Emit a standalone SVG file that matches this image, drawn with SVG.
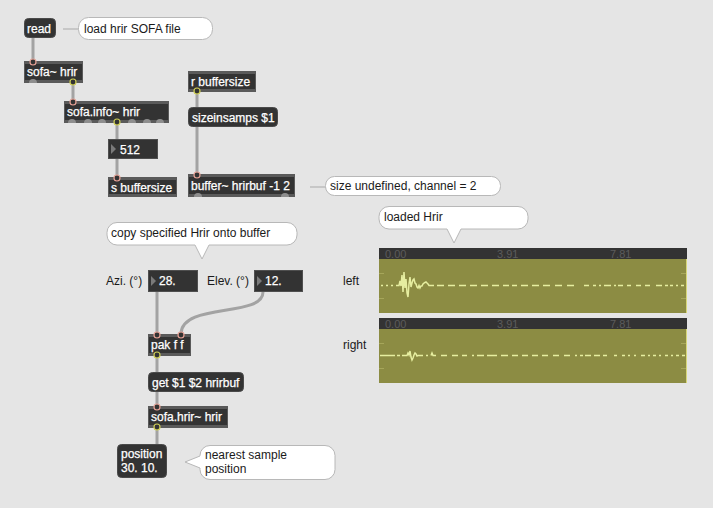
<svg xmlns="http://www.w3.org/2000/svg" width="713" height="508" viewBox="0 0 713 508">
<style>
.obj-o{fill:#5a5a5a}
.obj-i{fill:#333333}
.msg{fill:#333333;stroke:#4a4a4a;stroke-width:1}
.num{fill:#333333;stroke:#4f4f4f;stroke-width:1}
.tri{fill:#7a7a7a}
.t{font-family:"Liberation Sans",Arial,sans-serif;font-size:12px;fill:#ffffff;stroke:#ffffff;stroke-width:0.25}
.c{font-family:"Liberation Sans",Arial,sans-serif;font-size:12px;fill:#1a1a1a}
.bub{fill:#ffffff;stroke:#b8b8b8;stroke-width:1}
.cable{fill:none;stroke:#a3a3a3;stroke-width:3}
.pin{fill:#333333;stroke:#e6a195;stroke-width:1.2}
.pout{fill:#333333;stroke:#cfcf55;stroke-width:1.2}
.pfree{fill:#8e8e8e}
.hdr{fill:#333333}
.body{fill:#8c8c43}
.tick{stroke:#a6a65a;stroke-width:1}
.lab{font-family:"Liberation Sans",Arial,sans-serif;font-size:11px;fill:#5c5c5c}
.wave{fill:none;stroke:#e6eea0;stroke-width:1.5}
</style>
<rect x="0" y="0" width="713" height="508" fill="#e5e5e5"/>

<g id="connectors">
<line class="cable" x1="33" y1="38" x2="33" y2="61"/>
<line class="cable" x1="73" y1="83" x2="73" y2="101"/>
<line class="cable" x1="117" y1="123" x2="117" y2="139"/>
<line class="cable" x1="117" y1="159" x2="117" y2="177"/>
<line class="cable" x1="197" y1="92" x2="197" y2="107"/>
<line class="cable" x1="197" y1="127" x2="197" y2="174"/>
<line class="cable" x1="157" y1="292" x2="157" y2="334"/>
<path class="cable" d="M263,292 C263,318 181,302 181,334"/>
<line class="cable" x1="157" y1="356" x2="157" y2="372"/>
<line class="cable" x1="157" y1="392" x2="157" y2="406"/>
<line class="cable" x1="157" y1="428" x2="157" y2="444"/>
</g>

<g id="read">
<rect class="msg" x="24.5" y="18.5" width="31" height="19" rx="4"/>
<text class="t" x="27" y="32.5">read</text>
</g>

<g id="comment-load">
<line x1="63" y1="29" x2="79" y2="29" stroke="#bdbdbd" stroke-width="1.5"/>
<rect class="bub" x="78.5" y="17.5" width="134" height="22" rx="10"/>
<text class="c" x="84" y="32.5">load hrir SOFA file</text>
</g>

<g id="sofa-hrir">
<rect class="obj-o" x="24" y="61" width="59" height="22"/>
<rect class="obj-i" x="25" y="64" width="57" height="16"/>
<text class="t" x="27" y="76">sofa~ hrir</text>
<circle class="pin" cx="33" cy="62" r="3"/>
<path class="pfree" d="M29,83 A4,4 0 0 1 37,83 Z"/>
<circle class="pout" cx="73" cy="82" r="3"/>
</g>

<g id="sofa-info">
<rect class="obj-o" x="64" y="101" width="105" height="22"/>
<rect class="obj-i" x="65" y="104" width="103" height="16"/>
<text class="t" x="67" y="116">sofa.info~ hrir</text>
<circle class="pin" cx="73" cy="102" r="3"/>
<path class="pfree" d="M68,123 A4,4 0 0 1 76,123 Z"/>
<path class="pfree" d="M84,123 A4,4 0 0 1 92,123 Z"/>
<path class="pfree" d="M98,123 A4,4 0 0 1 106,123 Z"/>
<path class="pfree" d="M128,123 A4,4 0 0 1 136,123 Z"/>
<path class="pfree" d="M143,123 A4,4 0 0 1 151,123 Z"/>
<path class="pfree" d="M156,123 A4,4 0 0 1 164,123 Z"/>
<circle class="pout" cx="117" cy="122" r="3"/>
</g>

<g id="num-512">
<rect class="num" x="108.5" y="139.5" width="49" height="19"/>
<path class="tri" d="M111,144 L116,149 L111,154 Z"/>
<text class="t" x="120" y="154">512</text>
</g>

<g id="s-buffersize">
<rect class="obj-o" x="108" y="177" width="69" height="20"/>
<rect class="obj-i" x="109" y="180" width="67" height="14"/>
<text class="t" x="111" y="192">s buffersize</text>
<circle class="pin" cx="117" cy="178" r="3"/>
</g>

<g id="r-buffersize">
<rect class="obj-o" x="188" y="71" width="68" height="21"/>
<rect class="obj-i" x="189" y="74" width="66" height="15"/>
<text class="t" x="191" y="86">r buffersize</text>
<circle class="pout" cx="197" cy="91" r="3"/>
</g>

<g id="sizeinsamps">
<rect class="msg" x="188.5" y="107.5" width="89" height="19" rx="4"/>
<text class="t" x="192" y="122">sizeinsamps $1</text>
</g>

<g id="buffer">
<rect class="obj-o" x="188" y="174" width="107" height="23"/>
<rect class="obj-i" x="189" y="177" width="105" height="17"/>
<text class="t" x="191" y="190">buffer~ hrirbuf -1 2</text>
<circle class="pin" cx="197" cy="175" r="3"/>
<path class="pfree" d="M194,197 A4,4 0 0 1 202,197 Z"/>
<path class="pfree" d="M281,197 A4,4 0 0 1 289,197 Z"/>
</g>

<g id="comment-size">
<line x1="310" y1="187" x2="326" y2="187" stroke="#bdbdbd" stroke-width="1.5"/>
<rect class="bub" x="325.5" y="176.5" width="175" height="19" rx="9"/>
<text class="c" x="330" y="190">size undefined, channel = 2</text>
</g>

<g id="comment-copy">
<path class="bub" d="M117,222.5 H287 A10,10 0 0 1 297,232.5 V235 A10,10 0 0 1 287,245 H209 L202,259 L195,245 H117 A10,10 0 0 1 107,235 V232.5 A10,10 0 0 1 117,222.5 Z"/>
<text class="c" x="111" y="237">copy specified Hrir onto buffer</text>
</g>

<g id="label-azi"><text class="c" x="106" y="285">Azi. (°)</text></g>
<g id="label-elev"><text class="c" x="207" y="285">Elev. (°)</text></g>

<g id="num-azi">
<rect class="num" x="148.5" y="270.5" width="49" height="21"/>
<path class="tri" d="M151,276 L156,281 L151,286 Z"/>
<text class="t" x="159" y="285">28.</text>
</g>

<g id="num-elev">
<rect class="num" x="254.5" y="270.5" width="48" height="21"/>
<path class="tri" d="M257,276 L262,281 L257,286 Z"/>
<text class="t" x="265" y="285">12.</text>
</g>

<g id="pak">
<rect class="obj-o" x="148" y="334" width="43" height="22"/>
<rect class="obj-i" x="149" y="337" width="41" height="16"/>
<text class="t" x="151" y="349">pak f f</text>
<circle class="pin" cx="157" cy="335" r="3"/>
<circle class="pin" cx="181" cy="335" r="3"/>
<circle class="pout" cx="157" cy="355" r="3"/>
</g>

<g id="get-msg">
<rect class="msg" x="148.5" y="372.5" width="95" height="19" rx="4"/>
<text class="t" x="152" y="387">get $1 $2 hrirbuf</text>
</g>

<g id="sofa-hrir-obj">
<rect class="obj-o" x="148" y="406" width="80" height="22"/>
<rect class="obj-i" x="149" y="409" width="78" height="16"/>
<text class="t" x="151" y="421">sofa.hrir~ hrir</text>
<circle class="pin" cx="157" cy="407" r="3"/>
<circle class="pout" cx="157" cy="427" r="3"/>
</g>

<g id="position-msg">
<rect class="msg" x="117.5" y="444.5" width="49" height="33" rx="4"/>
<text class="t" x="121" y="458">position</text>
<text class="t" x="121" y="472">30. 10.</text>
</g>

<g id="comment-nearest">
<path class="bub" d="M210,445.5 H325 A10,10 0 0 1 335,455.5 V469.5 A10,10 0 0 1 325,479.5 H210 A10,10 0 0 1 200,469.5 V468 L185,462 L200,456 V455.5 A10,10 0 0 1 210,445.5 Z"/>
<text class="c" x="205" y="459">nearest sample</text>
<text class="c" x="205" y="473">position</text>
</g>

<g id="comment-loaded">
<path class="bub" d="M389,206.5 H518 A10,10 0 0 1 528,216.5 V219 A10,10 0 0 1 518,229 H461 L454,243 L447,229 H389 A10,10 0 0 1 379,219 V216.5 A10,10 0 0 1 389,206.5 Z"/>
<text class="c" x="384" y="221">loaded Hrir</text>
</g>

<g id="label-left"><text class="c" x="343" y="285">left</text></g>
<g id="label-right"><text class="c" x="343" y="349">right</text></g>

<g id="wave-left">
<rect class="hdr" x="379" y="248" width="308" height="11"/>
<rect class="body" x="379" y="259" width="308" height="54"/>
<line x1="686.5" y1="259" x2="686.5" y2="313" stroke="#d6d67a" stroke-width="1"/>
<line class="tick" x1="379" y1="273.5" x2="384" y2="273.5"/>
<line class="tick" x1="379" y1="298.5" x2="384" y2="298.5"/>
<line class="tick" x1="681" y1="273.5" x2="686" y2="273.5"/>
<line class="tick" x1="681" y1="298.5" x2="686" y2="298.5"/>
<text class="lab" x="385" y="258">0.00</text>
<text class="lab" x="497" y="258">3.91</text>
<text class="lab" x="610" y="258">7.81</text>
<path class="wave" d="M381,285.5 H383 M386,285.5 H388 M391,285.5 H393 M396,285.5 H399 L400,281 L401,286 L402,275 L403,292 L404,272 L405,288 L406,279 L407,293 L408,297 L409,284 L410,277 L411,287 L412,283 L413,280 L414,279 L415,283 L416,284 L417,287 L418,288 L419,285.5 L420,288 L421,286 L422,286 L423,284 L424,283 L425,282.5 L426,282 L427,283 L428,284 L429,285.5 H434 M437,285.5 H444 M448,285.5 H455 M459,285.5 H466 M470,285.5 H477 M481,285.5 H488 M492,285.5 H499 M503,285.5 H509 M512,285.5 H517 M521,285.5 H528 M532,285.5 H539 M543,285.5 H550 M555,285.5 H562 M567,285.5 H574 M584,285.5 H589 M593,285.5 H596 M599,285.5 H601 M604,285.5 H611 M614,285.5 H616 M618,285.5 H623 M627,285.5 H631 M636,285.5 H641 M645,285.5 H650 M656,285.5 H662 M665,285.5 H668 M670,285.5 H673 M676,285.5 H678 M681,285.5 H684"/>
</g>

<g id="wave-right">
<rect class="hdr" x="379" y="318" width="308" height="11"/>
<rect class="body" x="379" y="329" width="308" height="54"/>
<line x1="686.5" y1="329" x2="686.5" y2="383" stroke="#d6d67a" stroke-width="1"/>
<line class="tick" x1="379" y1="343.5" x2="384" y2="343.5"/>
<line class="tick" x1="379" y1="368.5" x2="384" y2="368.5"/>
<line class="tick" x1="681" y1="343.5" x2="686" y2="343.5"/>
<line class="tick" x1="681" y1="368.5" x2="686" y2="368.5"/>
<text class="lab" x="385" y="328">0.00</text>
<text class="lab" x="497" y="328">3.91</text>
<text class="lab" x="610" y="328">7.81</text>
<path class="wave" d="M380,355.5 H395 M397,355.5 H400 M402,355.5 H407 L408,353 L409,355 L410,351 L411,357 L412,360 L413,358 L414,355 L415,353 L416,354 L417,356 L418,355.5 H423 M426,355.5 H428 M431,355.5 L432,353 L433,355.5 H436 M441,355.5 H447 M452,355.5 H458 M462,355.5 H467 M472,355.5 H474 M477,355.5 H484 M487,355.5 H497 M501,355.5 H508 M512,355.5 H518 M522,355.5 H528 M532,355.5 H538 M542,355.5 H548 M553,355.5 H559 M564,355.5 H570 M575,355.5 H577 M580,355.5 H583 M585,355.5 H591 M594,355.5 H600 M603,355.5 H607 M614,355.5 H617 M622,355.5 H625 M628,355.5 H630 M634,355.5 H636 M641,355.5 H645 M648,355.5 H650 M653,355.5 H656 M659,355.5 H661 M665,355.5 H668 M671,355.5 H673 M676,355.5 H679 M682,355.5 H685"/>
</g>
</svg>
